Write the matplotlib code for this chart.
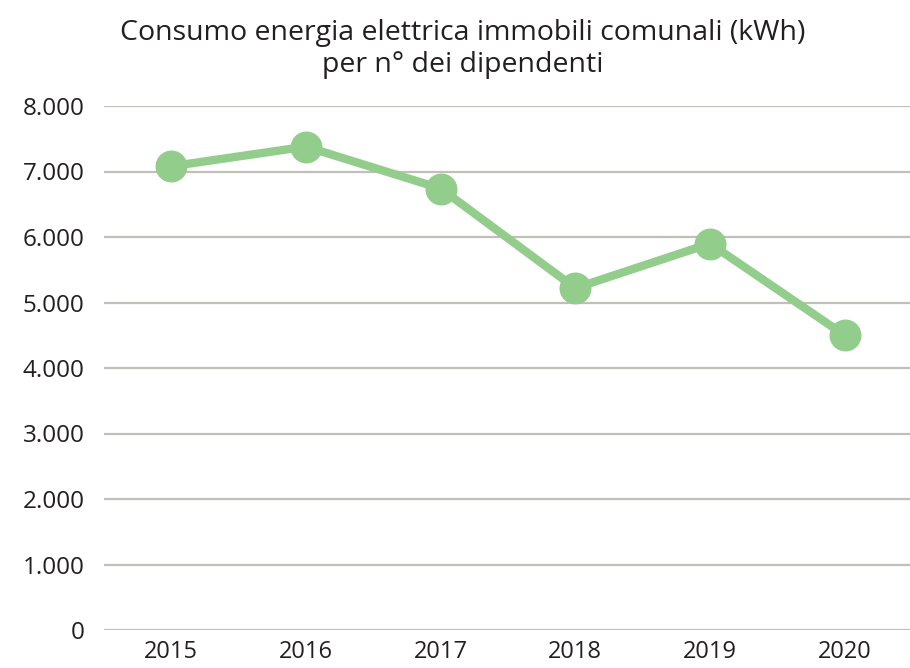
import matplotlib
matplotlib.use("Agg")
import matplotlib.pyplot as plt
from matplotlib.ticker import FuncFormatter

years = ["2015", "2016", "2017", "2018", "2019", "2020"]
values = [7080, 7380, 6740, 5220, 5900, 4500]
y_ticks = [0, 1000, 2000, 3000, 4000, 5000, 6000, 7000, 8000]
title = "Consumo energia elettrica immobili comunali (kWh)\nper n° dei dipendenti"

fig = plt.figure(figsize=(9.10, 6.68), dpi=100)
left = 104 / 910
right = 912 / 910
bottom = (668 - 630) / 668
top = (668 - 106) / 668
ax = fig.add_axes([left, bottom, right - left, top - bottom])

x = list(range(len(years)))
ax.plot(x, values, color="#93CD8C", linewidth=6.0, marker="o", markersize=22,
        markerfacecolor="#93CD8C", markeredgecolor="#93CD8C", zorder=3,
        solid_capstyle="round")

ax.set_xlim(-0.5, len(years) - 0.5)
ax.set_ylim(0, 8000)
ax.set_yticks(y_ticks)
ax.yaxis.set_major_formatter(FuncFormatter(lambda v, p: f"{int(v):,}".replace(",", ".")))
ax.set_xticks(x)
ax.set_xticklabels(years)
ax.grid(axis="y", color="#C0BFB8", linewidth=1.6)
ax.set_axisbelow(True)
for s in ax.spines.values():
    s.set_visible(False)
ax.tick_params(axis="both", length=0)
ax.tick_params(axis="y", pad=14, labelsize=17.5, labelcolor="#231F20")
ax.tick_params(axis="x", pad=7, labelsize=17, labelcolor="#231F20")
for lab in ax.get_yticklabels():
    lab.set_fontfamily("Open Sans")
for lab in ax.get_xticklabels():
    lab.set_fontfamily("Open Sans")

fig.text(463 / 910, 1 - 49 / 668, title, ha="center", va="center",
         fontsize=20.5, color="#231F20", family="Open Sans", linespacing=1.15)

fig.savefig("out.png", dpi=100)
